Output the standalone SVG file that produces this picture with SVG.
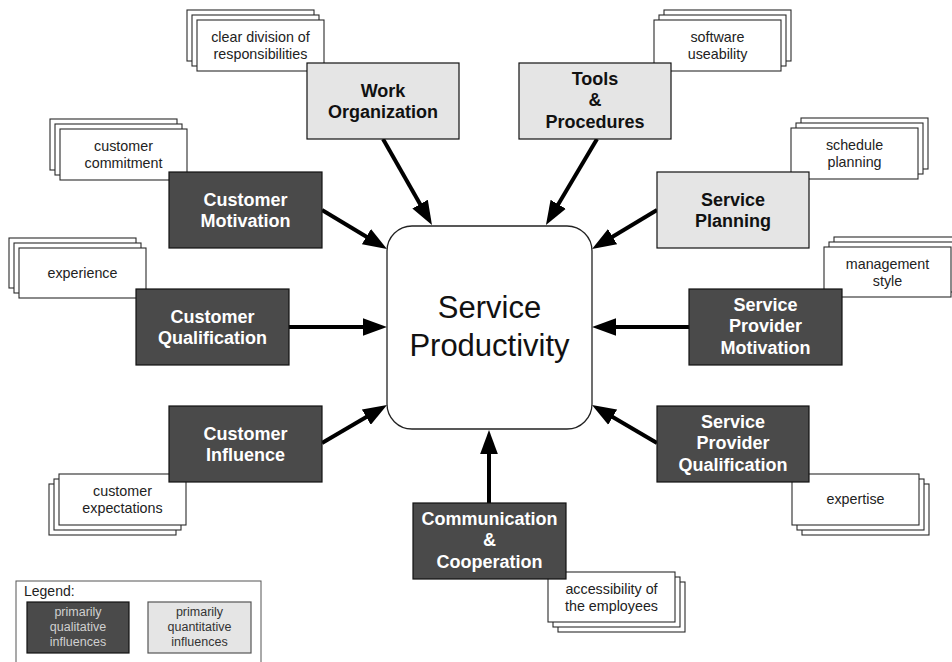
<svg xmlns="http://www.w3.org/2000/svg" width="952" height="662" viewBox="0 0 952 662">
<style>
  .dark{fill:#4a4a4a;stroke:#111;stroke-width:1.2}
  .light{fill:#e5e5e5;stroke:#111;stroke-width:1.2}
  .card{fill:#fff;stroke:#2a2a2a;stroke-width:1.1}
  .bw{font-family:"Liberation Sans",Arial,sans-serif;font-weight:bold;font-size:18px;fill:#fff;text-anchor:middle}
  .bb{font-family:"Liberation Sans",Arial,sans-serif;font-weight:bold;font-size:18px;fill:#111;text-anchor:middle}
  .ct{font-family:"Liberation Sans",Arial,sans-serif;font-size:14.3px;fill:#222;text-anchor:middle}
  .conn{stroke:#000;stroke-width:4;fill:none;marker-end:url(#ah)}
  .lg{font-family:"Liberation Sans",Arial,sans-serif;font-size:12.5px;text-anchor:middle}
</style>
<defs>
  <marker id="ah" markerUnits="userSpaceOnUse" markerWidth="24" markerHeight="18" viewBox="0 0 23 17" refX="1" refY="8.5" orient="auto">
    <path d="M0,0 L23,8.5 L0,17 z" fill="#000"/>
  </marker>
</defs>
<rect width="952" height="662" fill="#fff"/>

<!-- Cards (behind boxes) -->
<g id="card-work">
  <rect class="card" x="187" y="10" width="127" height="51"/>
  <rect class="card" x="192" y="15" width="127" height="51"/>
  <rect class="card" x="197" y="20" width="127" height="51"/>
  <text class="ct" x="260.5" y="42">clear division of</text>
  <text class="ct" x="260.5" y="59">responsibilities</text>
</g>
<g id="card-tools">
  <rect class="card" x="664" y="10" width="127" height="51"/>
  <rect class="card" x="659" y="15" width="127" height="51"/>
  <rect class="card" x="654" y="20" width="127" height="51"/>
  <text class="ct" x="717.5" y="42">software</text>
  <text class="ct" x="717.5" y="59">useability</text>
</g>
<g id="card-custmot">
  <rect class="card" x="50" y="119" width="127" height="51"/>
  <rect class="card" x="55" y="124" width="127" height="51"/>
  <rect class="card" x="60" y="129" width="127" height="51"/>
  <text class="ct" x="123.5" y="151">customer</text>
  <text class="ct" x="123.5" y="168">commitment</text>
</g>
<g id="card-servplan">
  <rect class="card" x="801" y="118" width="127" height="51"/>
  <rect class="card" x="796" y="123" width="127" height="51"/>
  <rect class="card" x="791" y="128" width="127" height="51"/>
  <text class="ct" x="854.5" y="150">schedule</text>
  <text class="ct" x="854.5" y="167">planning</text>
</g>
<g id="card-custqual">
  <rect class="card" x="9" y="238" width="127" height="50"/>
  <rect class="card" x="14" y="243" width="127" height="50"/>
  <rect class="card" x="19" y="248" width="127" height="50"/>
  <text class="ct" x="82.5" y="277.5">experience</text>
</g>
<g id="card-spm">
  <rect class="card" x="834" y="237" width="127" height="50"/>
  <rect class="card" x="829" y="242" width="127" height="50"/>
  <rect class="card" x="824" y="247" width="127" height="50"/>
  <text class="ct" x="887.5" y="268.5">management</text>
  <text class="ct" x="887.5" y="285.5">style</text>
</g>
<g id="card-custinf">
  <rect class="card" x="49" y="484" width="127" height="51"/>
  <rect class="card" x="54" y="479" width="127" height="51"/>
  <rect class="card" x="59" y="474" width="127" height="51"/>
  <text class="ct" x="122.5" y="496">customer</text>
  <text class="ct" x="122.5" y="513">expectations</text>
</g>
<g id="card-spq">
  <rect class="card" x="802" y="484" width="127" height="51"/>
  <rect class="card" x="797" y="479" width="127" height="51"/>
  <rect class="card" x="792" y="474" width="127" height="51"/>
  <text class="ct" x="855.5" y="504">expertise</text>
</g>
<g id="card-comm">
  <rect class="card" x="558" y="582" width="127" height="50"/>
  <rect class="card" x="553" y="577" width="127" height="50"/>
  <rect class="card" x="548" y="572" width="127" height="50"/>
  <text class="ct" x="611.5" y="593.5">accessibility of</text>
  <text class="ct" x="611.5" y="610.5">the employees</text>
</g>

<!-- Connectors -->
<g id="connectors">
  <line class="conn" x1="383" y1="139" x2="420.6" y2="205"/>
  <line class="conn" x1="597" y1="139" x2="557.7" y2="205.2"/>
  <line class="conn" x1="322" y1="210" x2="367.3" y2="237.2"/>
  <line class="conn" x1="657" y1="210" x2="611.7" y2="237.2"/>
  <line class="conn" x1="289" y1="327" x2="364" y2="327"/>
  <line class="conn" x1="689" y1="327" x2="615" y2="327"/>
  <line class="conn" x1="322" y1="443" x2="367.2" y2="416.6"/>
  <line class="conn" x1="657" y1="443" x2="611.8" y2="416.6"/>
  <line class="conn" x1="489" y1="503" x2="489" y2="453"/>
</g>

<!-- Center -->
<g id="service-productivity">
  <rect x="387" y="226" width="205" height="203" rx="25" ry="25" fill="#fff" stroke="#222" stroke-width="1.3"/>
  <text x="489.5" y="318" font-family="Liberation Sans, Arial, sans-serif" font-size="31" fill="#111" text-anchor="middle">Service</text>
  <text x="489.5" y="356" font-family="Liberation Sans, Arial, sans-serif" font-size="31" fill="#111" text-anchor="middle">Productivity</text>
</g>

<!-- Nodes -->
<g id="work-organization">
  <rect class="light" x="307" y="63" width="152" height="76"/>
  <text class="bb" x="383" y="97">Work</text>
  <text class="bb" x="383" y="118">Organization</text>
</g>
<g id="tools-procedures">
  <rect class="light" x="519" y="63" width="152" height="76"/>
  <text class="bb" x="595" y="85">Tools</text>
  <text class="bb" x="595" y="106">&amp;</text>
  <text class="bb" x="595" y="127.5">Procedures</text>
</g>
<g id="customer-motivation">
  <rect class="dark" x="169" y="172" width="153" height="76"/>
  <text class="bw" x="245.5" y="206">Customer</text>
  <text class="bw" x="245.5" y="227">Motivation</text>
</g>
<g id="service-planning">
  <rect class="light" x="657" y="172" width="152" height="76"/>
  <text class="bb" x="733" y="206">Service</text>
  <text class="bb" x="733" y="227">Planning</text>
</g>
<g id="customer-qualification">
  <rect class="dark" x="136" y="289" width="153" height="76"/>
  <text class="bw" x="212.5" y="323">Customer</text>
  <text class="bw" x="212.5" y="344">Qualification</text>
</g>
<g id="service-provider-motivation">
  <rect class="dark" x="689" y="289" width="153" height="76"/>
  <text class="bw" x="765.5" y="310.5">Service</text>
  <text class="bw" x="765.5" y="332">Provider</text>
  <text class="bw" x="765.5" y="353.5">Motivation</text>
</g>
<g id="customer-influence">
  <rect class="dark" x="169" y="406" width="153" height="76"/>
  <text class="bw" x="245.5" y="440">Customer</text>
  <text class="bw" x="245.5" y="461">Influence</text>
</g>
<g id="service-provider-qualification">
  <rect class="dark" x="657" y="406" width="152" height="76"/>
  <text class="bw" x="733" y="427.5">Service</text>
  <text class="bw" x="733" y="449">Provider</text>
  <text class="bw" x="733" y="470.5">Qualification</text>
</g>
<g id="communication-cooperation">
  <rect class="dark" x="413" y="503" width="153" height="76"/>
  <text class="bw" x="489.5" y="524.5">Communication</text>
  <text class="bw" x="489.5" y="546">&amp;</text>
  <text class="bw" x="489.5" y="567.5">Cooperation</text>
</g>

<!-- Legend -->
<g id="legend">
  <rect x="16" y="581" width="245" height="100" fill="#fff" stroke="#555" stroke-width="1"/>
  <text x="24" y="596" font-family="Liberation Sans, Arial, sans-serif" font-size="14" fill="#222">Legend:</text>
  <rect class="dark" x="27" y="602" width="102" height="51"/>
  <text class="lg" x="78" y="616" fill="#d0d0d0">primarily</text>
  <text class="lg" x="78" y="631" fill="#d0d0d0">qualitative</text>
  <text class="lg" x="78" y="645.5" fill="#d0d0d0">influences</text>
  <rect class="light" x="148" y="602" width="103" height="51" style="stroke:#555"/>
  <text class="lg" x="199.5" y="616" fill="#333">primarily</text>
  <text class="lg" x="199.5" y="631" fill="#333">quantitative</text>
  <text class="lg" x="199.5" y="645.5" fill="#333">influences</text>
</g>
</svg>
